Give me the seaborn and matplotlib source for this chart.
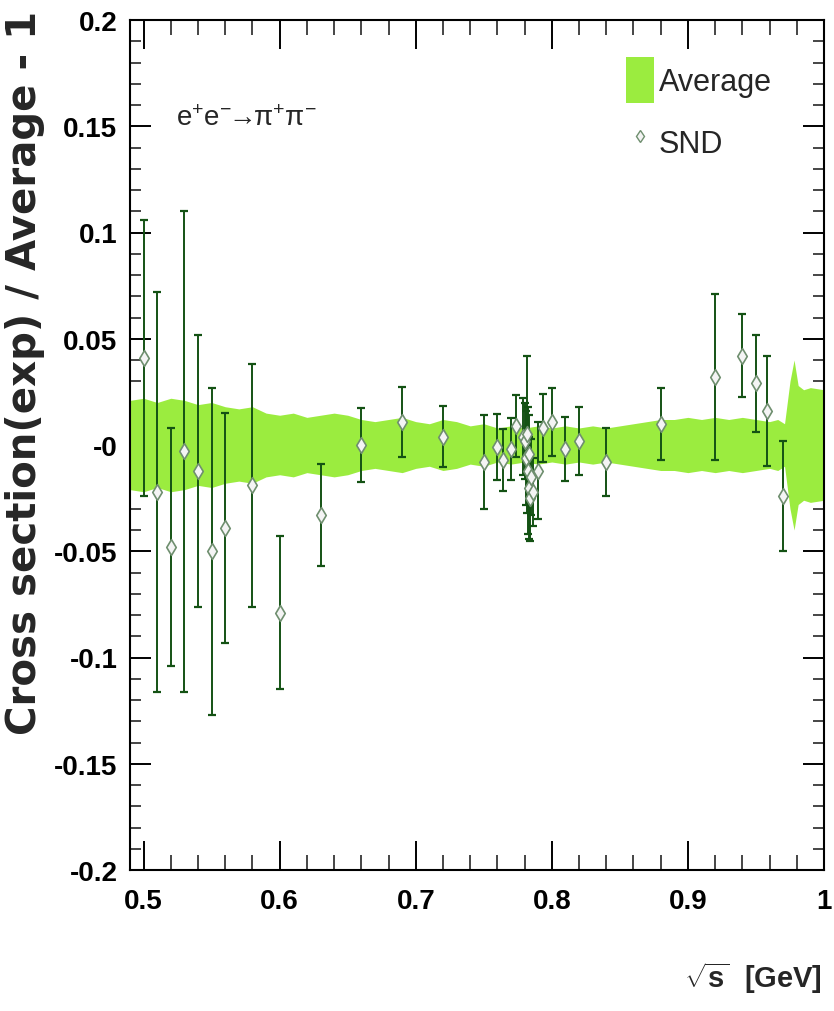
import numpy as np
import pandas as pd
import matplotlib
matplotlib.use("Agg")
import matplotlib.pyplot as plt
import seaborn as sns
from matplotlib.patches import Patch
from matplotlib.lines import Line2D
from matplotlib.ticker import FixedLocator, MultipleLocator

# ---------------- data ----------------
snd_x = [0.500, 0.510, 0.520, 0.530, 0.540, 0.550, 0.560, 0.580, 0.600, 0.630,
         0.660, 0.690, 0.720, 0.750, 0.760, 0.764, 0.770, 0.774, 0.7785,
         0.7800, 0.7810, 0.7820, 0.7825, 0.7830, 0.7835, 0.7840, 0.7850, 0.7860,
         0.790, 0.7935, 0.800, 0.810, 0.820, 0.840,
         0.880, 0.920, 0.940, 0.950, 0.958, 0.970]
snd_y = [0.041, -0.022, -0.048, -0.003, -0.012, -0.050, -0.039, -0.019, -0.079, -0.033,
         0.000, 0.011, 0.004, -0.008, -0.001, -0.007, -0.002, 0.009, 0.004,
         0.002, -0.006, 0.005, -0.012, -0.020, -0.004, -0.025, -0.015, -0.022,
         -0.012, 0.008, 0.011, -0.002, 0.002, -0.008,
         0.010, 0.032, 0.042, 0.029, 0.016, -0.024]
snd_err = [0.065, 0.094, 0.056, 0.113, 0.064, 0.077, 0.054, 0.057, 0.036, 0.024,
           0.0175, 0.0165, 0.0145, 0.022, 0.0155, 0.0145, 0.0145, 0.0145, 0.018,
           0.018, 0.022, 0.037, 0.030, 0.024, 0.018, 0.020, 0.018, 0.016,
           0.023, 0.016, 0.016, 0.015, 0.016, 0.016,
           0.017, 0.039, 0.0195, 0.023, 0.026, 0.026]

band_x = [0.490, 0.500, 0.510, 0.520, 0.530, 0.540, 0.550, 0.560, 0.570, 0.580,
          0.590, 0.600, 0.610, 0.620, 0.630, 0.640, 0.650, 0.660, 0.670, 0.680,
          0.690, 0.700, 0.710, 0.720, 0.730, 0.740, 0.750, 0.760, 0.770, 0.780,
          0.790, 0.800, 0.810, 0.820, 0.830, 0.840, 0.850, 0.860, 0.870, 0.880,
          0.890, 0.900, 0.910, 0.920, 0.930, 0.940, 0.950, 0.960, 0.966, 0.971,
          0.975, 0.978, 0.981, 0.985, 0.990, 1.000]
band_hw = [0.021, 0.022, 0.020, 0.022, 0.021, 0.019, 0.020, 0.018, 0.017, 0.018,
           0.015, 0.014, 0.015, 0.013, 0.014, 0.015, 0.014, 0.012, 0.011, 0.012,
           0.013, 0.011, 0.010, 0.012, 0.011, 0.009, 0.010, 0.008, 0.009, 0.008,
           0.009, 0.008, 0.009, 0.008, 0.009, 0.008, 0.009, 0.010, 0.011, 0.012,
           0.012, 0.013, 0.012, 0.013, 0.012, 0.013, 0.012, 0.011, 0.012, 0.010,
           0.030, 0.040, 0.028, 0.026, 0.027, 0.026]

x_ticks = [0.5, 0.6, 0.7, 0.8, 0.9, 1.0]
x_tick_labels = ["0.5", "0.6", "0.7", "0.8", "0.9", "1"]
y_ticks = [-0.2, -0.15, -0.1, -0.05, 0.0, 0.05, 0.1, 0.15, 0.2]
y_tick_labels = ["-0.2", "-0.15", "-0.1", "-0.05", "-0", "0.05", "0.1", "0.15", "0.2"]

# ---------------- style ----------------
sns.set_theme(style="ticks")
plt.rcParams["font.family"] = ["Liberation Sans", "DejaVu Sans"]
plt.rcParams["mathtext.fontset"] = "custom"
plt.rcParams["mathtext.rm"] = "Liberation Sans"
plt.rcParams["mathtext.it"] = "Liberation Sans"
plt.rcParams["mathtext.bf"] = "Liberation Sans:bold"

BAND = "#9bec3f"
BAR = "#145214"
MEDGE = "#6f8f6f"

fig = plt.figure(figsize=(8.34, 10.12), dpi=100)
fig.patch.set_facecolor("white")
ax = fig.add_axes([130 / 834, 1 - 871 / 1012, 694 / 834, 850 / 1012])
ax.set_facecolor("white")

bx = np.array(band_x)
bh = np.array(band_hw)
ax.fill_between(bx, -bh, bh, color=BAND, lw=0, zorder=1)

df = pd.DataFrame({"x": snd_x, "y": snd_y, "err": snd_err})
ax.errorbar(df["x"], df["y"], yerr=df["err"], fmt="none", ecolor=BAR,
            elinewidth=1.4, capsize=2.6, capthick=1.6, zorder=2)
sns.scatterplot(data=df, x="x", y="y", marker="d", s=65, color="#f4f4f4",
                edgecolor=MEDGE, linewidth=1.2, ax=ax, zorder=3, legend=False)

ax.set_xlim(0.49, 1.0)
ax.set_ylim(-0.2, 0.2)

ax.xaxis.set_major_locator(FixedLocator(x_ticks))
ax.set_xticklabels(x_tick_labels)
ax.xaxis.set_minor_locator(MultipleLocator(0.02))
ax.yaxis.set_major_locator(FixedLocator(y_ticks))
ax.set_yticklabels(y_tick_labels)
ax.yaxis.set_minor_locator(MultipleLocator(0.01))

for sp in ax.spines.values():
    sp.set_visible(True)
    sp.set_linewidth(1.5)
    sp.set_color("black")

ax.tick_params(axis="x", which="major", direction="in", length=21, width=1.4,
               top=True, bottom=True, pad=13, labelsize=20, colors="black")
ax.tick_params(axis="x", which="minor", direction="in", length=10.5, width=1.2,
               top=True, bottom=True)
ax.tick_params(axis="y", which="major", direction="in", length=15, width=1.4,
               left=True, right=True, pad=9, labelsize=20, colors="black")
ax.tick_params(axis="y", which="minor", direction="in", length=8, width=1.2,
               left=True, right=True)
for lab in ax.get_xticklabels() + ax.get_yticklabels():
    lab.set_fontweight("bold")

ax.set_ylabel("Cross section(exp) / Average - 1", fontsize=29, fontweight="bold",
              loc="top", family=["DejaVu Sans"])
ax.yaxis.set_label_coords(-0.122, 1.012)
ax.set_xlabel(r"$\mathbf{\sqrt{s}}$  [GeV]", fontsize=21, fontweight="bold",
              loc="right")
ax.xaxis.set_label_coords(0.997, -0.105)

ax.text(0.066, 0.885, r"$\mathrm{e^{+}e^{-}\!\!\rightarrow\!\!\pi^{+}\pi^{-}}$",
        transform=ax.transAxes, fontsize=20, ha="left", va="center")

handles = [Patch(facecolor=BAND, edgecolor="none", label="Average"),
           Line2D([0], [0], marker="d", ls="none", markersize=6,
                  markerfacecolor="#f4f4f4", markeredgecolor=MEDGE,
                  markeredgewidth=1.0, label="SND")]
fig.legend(handles=handles, loc="upper left",
           bbox_to_anchor=(626 / 834, 1 - 58 / 1012), frameon=False,
           fontsize=22, handlelength=0.9, handleheight=1.92, handletextpad=0.18,
           labelspacing=0.55, borderpad=0, borderaxespad=0)

fig.savefig("out.png", dpi=100, facecolor="white")
